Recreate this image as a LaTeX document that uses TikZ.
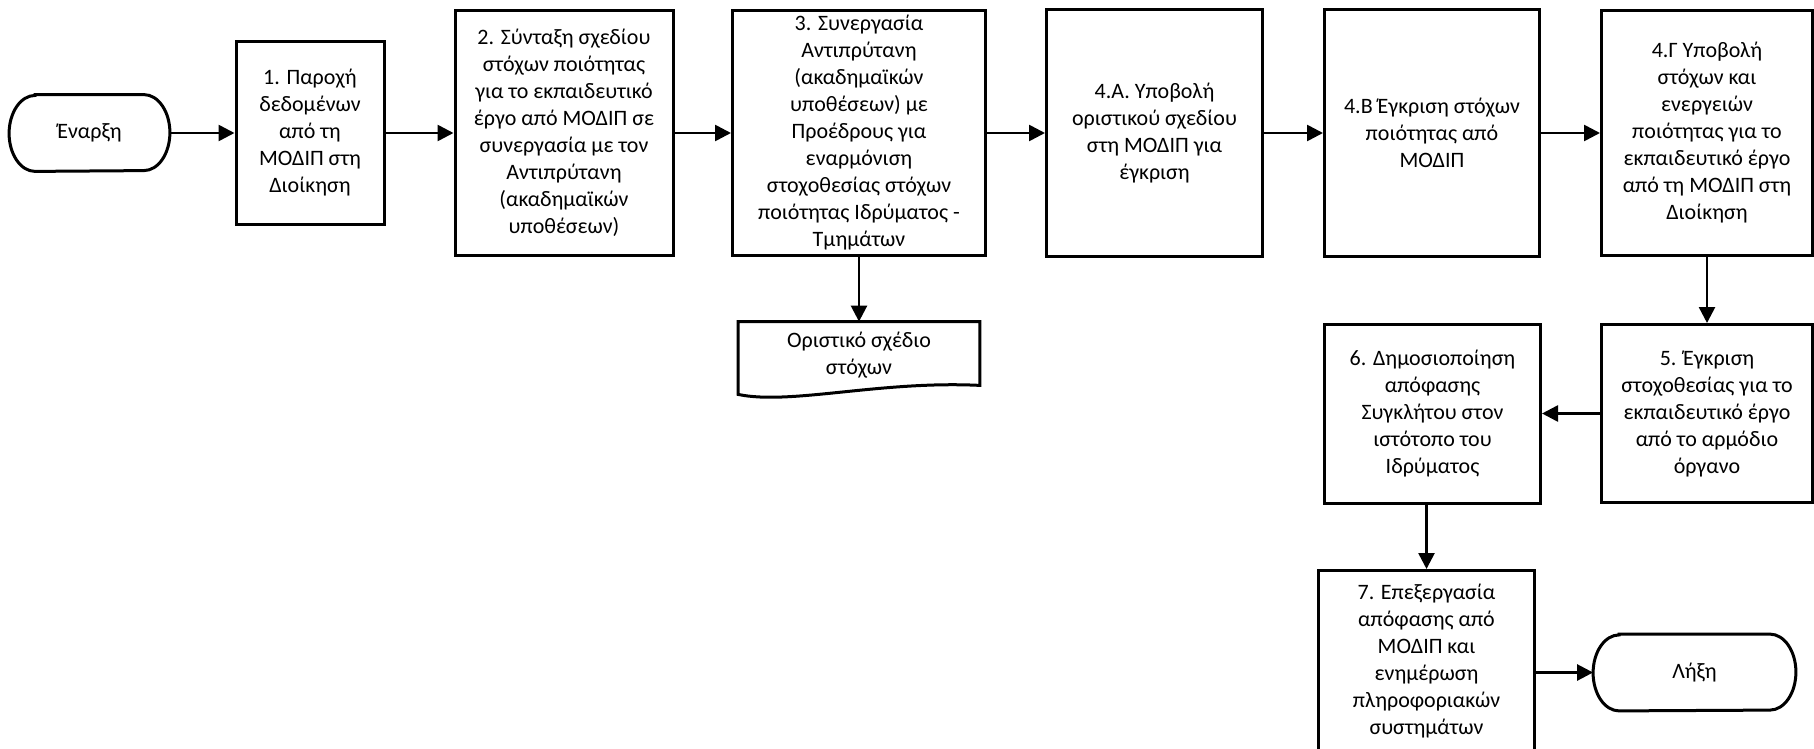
\documentclass[tikz,border=0pt]{standalone}
\usepackage{fontspec}
\setmainfont{Carlito}
\usetikzlibrary{arrows.meta,calc}
\tikzset{
  every picture/.style={>={Triangle[length=8pt,width=8pt]}, x=0.5pt, y=-0.5pt,
    font=\fontsize{11}{13.5}\selectfont},
  procbox/.style={draw, line width=1.5pt, align=center, inner sep=1pt},
  wh/.style 2 args={minimum width=#1pt, minimum height=#2pt},
  termbox/.style={align=center, minimum width=#1pt, minimum height=38pt},
  docbox/.style={align=center, inner sep=1pt, minimum width=120.5pt, minimum height=33pt},
  outline/.style={line width=1.5pt},
  flow/.style={->, line width=1.3pt},
}
\begin{document}
\begin{tikzpicture}
  \useasboundingbox (0,0) rectangle (1814,749);
  \node[termbox=80] (start) at (89.5,133) {Έναρξη};
  \node[procbox, wh={74}{91.5}] (s1) at (310,133) {1. Παροχή\\δεδομένων\\από τη\\ΜΟΔΙΠ στη\\Διοίκηση};
  \node[procbox, wh={109}{122.5}] (s2) at (564,133) {2. Σύνταξη σχεδίου\\στόχων ποιότητας\\για το εκπαιδευτικό\\έργο από ΜΟΔΙΠ σε\\συνεργασία με τον\\Αντιπρύτανη\\(ακαδημαϊκών\\υποθέσεων)};
  \node[procbox, wh={126.5}{122.5}] (s3) at (859,133) {3. Συνεργασία\\Αντιπρύτανη\\(ακαδημαϊκών\\υποθέσεων) με\\Προέδρους για\\εναρμόνιση\\στοχοθεσίας στόχων\\ποιότητας Ιδρύματος -\\Τμημάτων};
  \node[procbox, wh={108}{123}] (s4a) at (1154.5,133) {4.Α. Υποβολή\\οριστικού σχεδίου\\στη ΜΟΔΙΠ για\\έγκριση};
  \node[procbox, wh={107.5}{123}] (s4b) at (1432,133) {4.Β Έγκριση στόχων\\ποιότητας από\\ΜΟΔΙΠ};
  \node[procbox, wh={105.5}{122.5}] (s4c) at (1707,133) {4.Γ Υποβολή\\στόχων και\\ενεργειών\\ποιότητας για το\\εκπαιδευτικό έργο\\από τη ΜΟΔΙΠ στη\\Διοίκηση};
  \node[procbox, wh={105.5}{89}] (s5) at (1707,413.5) {5. Έγκριση\\στοχοθεσίας για το\\εκπαιδευτικό έργο\\από το αρμόδιο\\όργανο};
  \node[procbox, wh={108}{89.5}] (s6) at (1432.5,413.5) {6. Δημοσιοποίηση\\απόφασης\\Συγκλήτου στον\\ιστότοπο του\\Ιδρύματος};
  \node[procbox, wh={108}{91}] (s7) at (1426.5,661.5) {7. Επεξεργασία\\απόφασης από\\ΜΟΔΙΠ και\\ενημέρωση\\πληροφοριακών\\συστημάτων};
  \node[termbox=101] (finish) at (1694.5,672.5) {Λήξη};
  \node[docbox] (doc) at (859,355) {Οριστικό σχέδιο\\στόχων};
  % terminals with flattened round ends
  \foreach \t in {start,finish}
    \draw[outline] ($(\t.north west)+(13pt,0)$) -- ($(\t.north east)+(-13pt,0)$)
      arc[start angle=90, end angle=-90, x radius=13pt, y radius=19pt]
      -- ($(\t.south west)+(13pt,0)$)
      arc[start angle=270, end angle=90, x radius=13pt, y radius=19pt] -- cycle;
  \draw[outline] ($(doc.south east)+(0,-3)$) -- (doc.north east) -- (doc.north west)
    -- ($(doc.south west)+(0,6)$) .. controls ($(doc.south)+(-69,17)$) and ($(doc.south)+(21,-8)$) .. cycle;
  \foreach \a/\b in {start/s1, s1/s2, s2/s3, s3/s4a, s4a/s4b, s4b/s4c, s4c/s5, s5/s6, s3/doc}
    \draw[flow] (\a) -- (\b);
  \draw[flow] (s6.south -| s7.north) -- (s7.north);
  \draw[flow] (s7.east |- finish.west) -- (finish.west);
\end{tikzpicture}
\end{document}
